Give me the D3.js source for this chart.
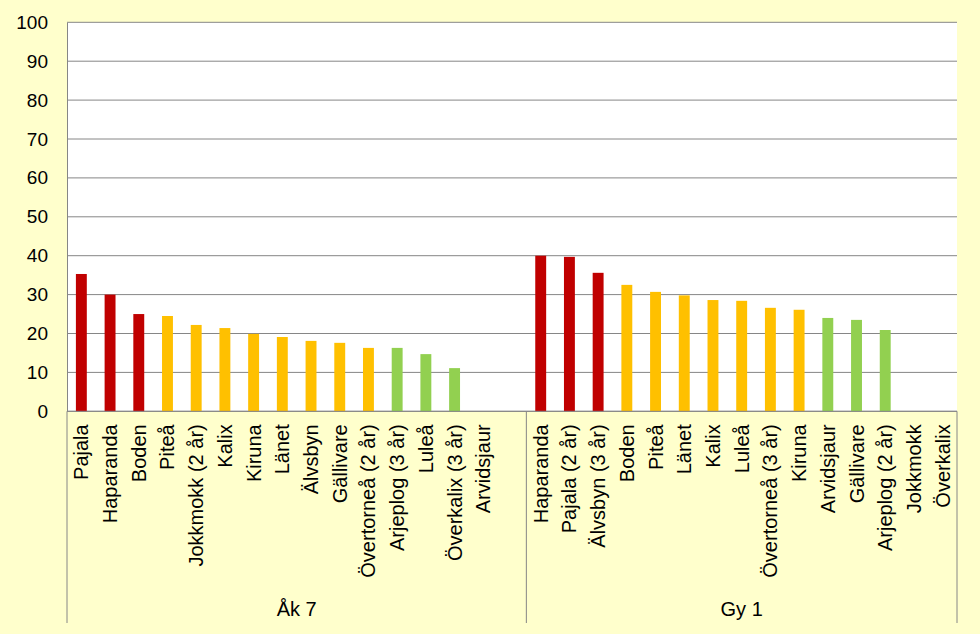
<!DOCTYPE html>
<html>
<head>
<meta charset="utf-8">
<script src="https://cdn.jsdelivr.net/npm/d3@7"></script>
<style>
  html, body { margin: 0; padding: 0; background: #FFFFCC; }
  svg { display: block; }
  text { font-family: "Liberation Sans", Arial, sans-serif; fill: #000; }
</style>
</head>
<body>
<svg id="chart" width="980" height="634"></svg>
<script>
// ---- data ----
const groups = ["Åk 7", "Gy 1"];
const ak7Categories = ["Pajala", "Haparanda", "Boden", "Piteå", "Jokkmokk (2 år)", "Kalix", "Kiruna", "Länet", "Älvsbyn", "Gällivare", "Övertorneå (2 år)", "Arjeplog (3 år)", "Luleå", "Överkalix (3 år)", "Arvidsjaur", ""];
const ak7Values = [35.3, 30.0, 25.0, 24.5, 22.2, 21.4, 19.9, 19.1, 18.1, 17.6, 16.3, 16.3, 14.7, 11.1, null, null];
const ak7Levels = ["red", "red", "red", "amber", "amber", "amber", "amber", "amber", "amber", "amber", "amber", "green", "green", "green", "none", "none"];
const gy1Categories = ["Haparanda", "Pajala (2 år)", "Älvsbyn (3 år)", "Boden", "Piteå", "Länet", "Kalix", "Luleå", "Övertorneå (3 år)", "Kiruna", "Arvidsjaur", "Gällivare", "Arjeplog (2 år)", "Jokkmokk", "Överkalix"];
const gy1Values = [40.0, 39.7, 35.6, 32.5, 30.7, 29.8, 28.6, 28.4, 26.6, 26.1, 24.0, 23.5, 20.9, null, null];
const gy1Levels = ["red", "red", "red", "amber", "amber", "amber", "amber", "amber", "amber", "amber", "green", "green", "green", "none", "none"];
const yTicks = [0, 10, 20, 30, 40, 50, 60, 70, 80, 90, 100];
const levelColors = { red: "#C00000", amber: "#FFC000", green: "#92D050", none: "none" };

// ---- build rows ----
const rows = [];
ak7Categories.forEach((c, i) => rows.push({ key: "a" + i, group: 0, label: c, value: ak7Values[i], level: ak7Levels[i] }));
gy1Categories.forEach((c, i) => rows.push({ key: "g" + i, group: 1, label: c, value: gy1Values[i], level: gy1Levels[i] }));

const margin = { left: 67, right: 23, top: 22.3, bottom: 222.7 };
const W = 980, H = 634;
const svg = d3.select("#chart");

const x = d3.scaleBand()
  .domain(rows.map(d => d.key))
  .range([margin.left, W - margin.right])
  .paddingInner(0.62)
  .paddingOuter(0.31);
const y = d3.scaleLinear().domain([0, 100]).range([H - margin.bottom, margin.top]);

// plot area
svg.append("rect")
  .attr("x", margin.left).attr("y", margin.top)
  .attr("width", W - margin.right - margin.left)
  .attr("height", y(0) - margin.top)
  .attr("fill", "#FFFFFF");

// gridlines
svg.append("g").selectAll("line").data(yTicks).join("line")
  .attr("x1", margin.left).attr("x2", W - margin.right)
  .attr("y1", d => y(d)).attr("y2", d => y(d))
  .attr("stroke", "#868686").attr("stroke-width", 1);

// y axis
const yAxis = d3.axisLeft(y).tickValues(yTicks).tickSize(0).tickPadding(19);
const gy = svg.append("g").attr("transform", `translate(${margin.left},0)`).call(yAxis);
gy.select(".domain").attr("stroke", "#868686");
gy.selectAll("text").style("font-size", "19px").style("font-family", "Liberation Sans, Arial, sans-serif");

// bars
svg.append("g").selectAll("rect").data(rows.filter(d => d.value != null)).join("rect")
  .attr("x", d => x(d.key))
  .attr("width", x.bandwidth())
  .attr("y", d => y(d.value))
  .attr("height", d => y(0) - y(d.value))
  .attr("fill", d => levelColors[d.level]);

// category labels
const xAxis = d3.axisBottom(x).tickSize(0).tickPadding(0).tickFormat(k => rows.find(r => r.key === k).label);
const gx = svg.append("g").attr("transform", `translate(0,${y(0)})`).call(xAxis);
gx.select(".domain").remove();
gx.selectAll(".tick text")
  .style("font-size", "20px")
  .style("font-family", "Liberation Sans, Arial, sans-serif")
  .attr("transform", "rotate(-90)")
  .attr("text-anchor", "end")
  .attr("x", -13)
  .attr("y", 0)
  .attr("dy", "0.35em");

// category axis frame
const axisY = y(0);
const bottomY = 623;
const splitX = margin.left + ak7Categories.length * (W - margin.left - margin.right) / rows.length;
svg.append("line").attr("x1", margin.left).attr("x2", W - margin.right)
  .attr("y1", axisY).attr("y2", axisY).attr("stroke", "#868686");
[margin.left, splitX, W - margin.right].forEach(px => {
  svg.append("line").attr("x1", px).attr("x2", px).attr("y1", axisY).attr("y2", bottomY)
    .attr("stroke", "#868686");
});

// group labels
const groupCenters = [(margin.left + splitX) / 2, (splitX + W - margin.right) / 2];
svg.append("g").selectAll("text").data(groups).join("text")
  .attr("x", (d, i) => groupCenters[i])
  .attr("y", 616)
  .attr("text-anchor", "middle")
  .style("font-size", "20px")
  .text(d => d);
</script>
</body>
</html>
